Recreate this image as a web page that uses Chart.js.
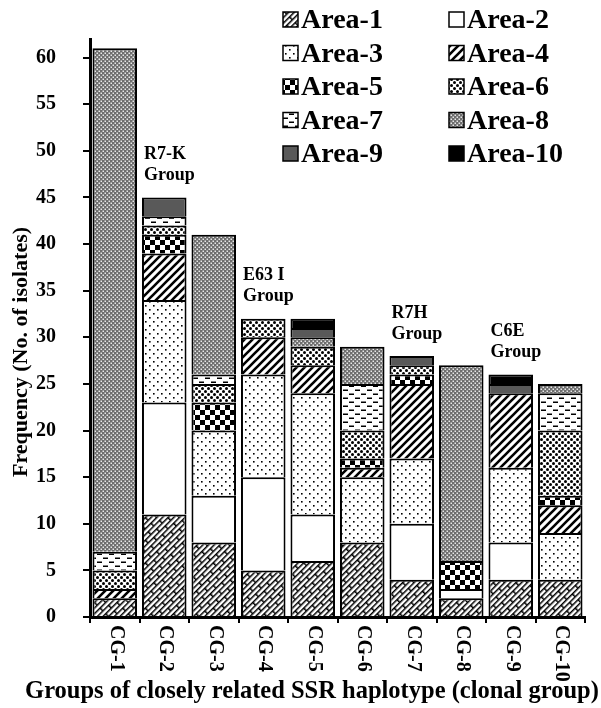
<!DOCTYPE html>
<html>
<head>
<meta charset="utf-8">
<script src="https://cdn.jsdelivr.net/npm/chart.js@4.4.1/dist/chart.umd.min.js"></script>
<style>
  html, body { margin: 0; padding: 0; background: #fff; }
  #wrap { width: 601px; height: 708px; position: relative; }
</style>
</head>
<body>
<div id="wrap"><canvas id="chart"></canvas></div>
<script>
// clonal groups on the x axis
const groups = ['CG-1', 'CG-2', 'CG-3', 'CG-4', 'CG-5', 'CG-6', 'CG-7', 'CG-8', 'CG-9', 'CG-10'];

// isolates per area, stacked bottom to top
const area1  = [2, 11, 8, 5, 6, 8, 4, 2, 4, 4];
const area2  = [0, 12, 5, 10, 5, 0, 6, 1, 4, 0];
const area3  = [0, 11, 7, 11, 13, 7, 7, 0, 8, 5];
const area4  = [1, 5, 0, 4, 3, 1, 8, 0, 8, 3];
const area5  = [0, 2, 3, 0, 0, 1, 1, 3, 0, 1];
const area6  = [2, 1, 2, 2, 2, 3, 1, 0, 0, 7];
const area7  = [2, 1, 1, 0, 0, 5, 0, 0, 0, 4];
const area8  = [54, 0, 15, 0, 1, 4, 0, 21, 0, 1];
const area9  = [0, 2, 0, 0, 1, 0, 1, 0, 1, 0];
const area10 = [0, 0, 0, 0, 1, 0, 0, 0, 1, 0];

const areaNames = ['Area-1', 'Area-2', 'Area-3', 'Area-4', 'Area-5', 'Area-6', 'Area-7', 'Area-8', 'Area-9', 'Area-10'];
const yTicks = [0, 5, 10, 15, 20, 25, 30, 35, 40, 45, 50, 55, 60];

// group notes above some bars
const noteGroups = ['CG-2', 'CG-4', 'CG-7', 'CG-9'];
const noteNames = ['R7-K', 'E63 I', 'R7H', 'C6E'];

const xTitle = 'Groups of closely related SSR haplotype (clonal group)';
const yTitle = 'Frequency (No. of isolates)';

const serif = "'Liberation Serif', 'Times New Roman', serif";

// --- fill patterns ---
function tile(w, h, draw) {
  const c = document.createElement('canvas');
  c.width = w; c.height = h;
  const g = c.getContext('2d');
  g.fillStyle = '#fff';
  g.fillRect(0, 0, w, h);
  draw(g);
  return g.createPattern(c, 'repeat');
}

const pBrick = tile(16, 8, g => {
  g.strokeStyle = '#000'; g.lineWidth = 1.5;
  g.beginPath();
  g.moveTo(0, 0.75); g.lineTo(16, 0.75);
  g.moveTo(0, 4.75); g.lineTo(16, 4.75);
  g.moveTo(0.75, 0); g.lineTo(0.75, 4.75);
  g.moveTo(8.75, 4.75); g.lineTo(8.75, 8);
  g.stroke();
});
pBrick.setTransform(new DOMMatrix().rotate(-45));

const pDots = tile(8, 8, g => {
  g.fillStyle = '#000';
  g.fillRect(1, 1, 1.6, 1.6);
  g.fillRect(5, 5, 1.6, 1.6);
});

const pDiag = tile(8, 8, g => {
  g.strokeStyle = '#000'; g.lineWidth = 2.6;
  g.beginPath();
  g.moveTo(-2, 10); g.lineTo(10, -2);
  g.moveTo(-2, 2); g.lineTo(2, -2);
  g.moveTo(6, 10); g.lineTo(10, 6);
  g.stroke();
});

const pChecker = tile(10, 10, g => {
  g.fillStyle = '#000';
  g.fillRect(0, 0, 5, 5);
  g.fillRect(5, 5, 5, 5);
});

const pBlobs = tile(6, 6, g => {
  g.fillStyle = '#000';
  g.beginPath(); g.arc(1.5, 1.5, 1.5, 0, Math.PI * 2); g.fill();
  g.beginPath(); g.arc(4.5, 4.5, 1.5, 0, Math.PI * 2); g.fill();
});

const pDash = tile(12, 8, g => {
  g.fillStyle = '#000';
  g.fillRect(1, 1.5, 5, 1.5);
  g.fillRect(7, 5.5, 5, 1.5);
});

const pGray = tile(4, 4, g => {
  g.fillStyle = '#6e6e6e';
  g.fillRect(0, 0, 4, 4);
  g.fillStyle = '#e8e8e8';
  g.fillRect(0.5, 0.5, 1.5, 1.5);
  g.fillRect(2.5, 2.5, 1.5, 1.5);
});

const fills = [pBrick, '#ffffff', pDots, pDiag, pChecker, pBlobs, pDash, pGray, '#595959', '#000000'];
const series = [area1, area2, area3, area4, area5, area6, area7, area8, area9, area10];

const datasets = series.map((vals, i) => ({
  label: areaNames[i],
  data: vals.map(v => v === 0 ? null : v),
  backgroundColor: fills[i],
  borderColor: '#000',
  borderWidth: 2,
  barPercentage: 0.9,
  categoryPercentage: 1.0
}));

const overlay = {
  id: 'overlay',
  afterDraw(chart) {
    const ctx = chart.ctx;
    const xs = chart.scales.x, ys = chart.scales.y;
    const area = chart.chartArea;
    ctx.save();
    ctx.fillStyle = '#000';

    // x tick labels, turned to read top to bottom
    ctx.font = 'bold 20px ' + serif;
    ctx.textAlign = 'left';
    ctx.textBaseline = 'middle';
    groups.forEach((g, i) => {
      ctx.save();
      ctx.translate(xs.getPixelForValue(i) + 1, area.bottom + 8);
      ctx.rotate(Math.PI / 2);
      ctx.fillText(g, 0, 0);
      ctx.restore();
    });

    // axis titles
    ctx.font = 'bold 24.5px ' + serif;
    ctx.textAlign = 'center';
    ctx.fillText(xTitle, 312, 692);
    ctx.save();
    ctx.translate(21, 352);
    ctx.rotate(-Math.PI / 2);
    ctx.font = 'bold 22px ' + serif;
    ctx.fillText(yTitle, 0, 0);
    ctx.restore();

    // group notes
    ctx.font = 'bold 18px ' + serif;
    ctx.textAlign = 'left';
    const bw = chart.getDatasetMeta(0).data[0].width;
    noteGroups.forEach((g, k) => {
      const i = groups.indexOf(g);
      const total = series.reduce((s, arr) => s + arr[i], 0);
      const x = xs.getPixelForValue(i) - bw / 2 + 2;
      const y = ys.getPixelForValue(total);
      ctx.fillText(noteNames[k], x, y - 43);
      ctx.fillText('Group', x, y - 22);
    });

    // legend, two columns
    ctx.font = 'bold 28px ' + serif;
    ctx.textBaseline = 'middle';
    areaNames.forEach((name, i) => {
      const col = i % 2, row = Math.floor(i / 2);
      const bx = col === 0 ? 283 : 449;
      const cy = 20 + row * 33.5;
      ctx.fillStyle = fills[i];
      ctx.fillRect(bx, cy - 8, 15, 15);
      ctx.strokeStyle = '#000';
      ctx.lineWidth = 1.5;
      ctx.strokeRect(bx, cy - 8, 15, 15);
      ctx.fillStyle = '#000';
      ctx.fillText(name, bx + 18, cy + 1);
    });
    ctx.restore();
  }
};

new Chart(document.getElementById('chart'), {
  type: 'bar',
  data: { labels: groups, datasets: datasets },
  options: {
    responsive: true,
    maintainAspectRatio: false,
    animation: false,
    layout: { padding: { top: 28, right: 16, left: 0, bottom: 0 } },
    plugins: {
      legend: { display: false },
      tooltip: { enabled: false }
    },
    scales: {
      x: {
        stacked: true,
        grid: { drawOnChartArea: false, drawTicks: true, tickLength: 6, color: '#000', lineWidth: 2, offset: true },
        border: { display: true, color: '#000', width: 3 },
        ticks: { display: false },
        afterFit(s) { s.height = 91; }
      },
      y: {
        stacked: true,
        min: 0,
        max: 62,
        grid: { drawOnChartArea: false, drawTicks: true, tickLength: 7, color: '#000', lineWidth: 2 },
        border: { display: true, color: '#000', width: 3 },
        ticks: {
          stepSize: 5,
          padding: 27,
          color: '#000',
          font: { family: serif, size: 20, weight: 'bold' }
        },
        afterBuildTicks(s) { s.ticks = yTicks.map(v => ({ value: v })); },
        afterFit(s) { s.width = 90; }
      }
    }
  },
  plugins: [overlay]
});
</script>
</body>
</html>
